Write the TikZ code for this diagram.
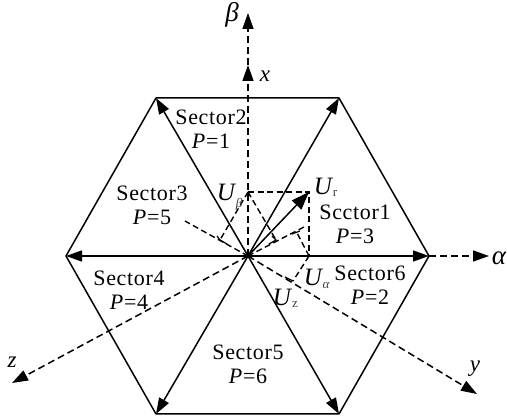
\documentclass[tikz,border=0pt]{standalone}
\usepackage{fontspec}
\setmainfont{Liberation Serif}
\newfontfamily\spaced[LetterSpace=3]{Liberation Serif}
\usetikzlibrary{arrows.meta}
\tikzset{
  headtip/.style={-{Triangle[length=16pt,width=11pt]}},
  spoke/.style={line width=1.5pt,headtip},
  hexa/.style={line width=1.5pt,line join=round},
  axisline/.style={line width=1.5pt,dash pattern=on 7pt off 4pt,headtip},
  aux/.style={line width=1.4pt,dash pattern=on 6pt off 3.5pt},
  rightmark/.style={line width=1.2pt},
  lab/.style={font=\fontsize{22}{24}\selectfont\spaced,inner sep=0pt,align=center},
  sym/.style={font=\fontsize{23}{24}\selectfont\itshape,inner sep=0pt},
  symbig/.style={font=\fontsize{25}{26}\selectfont\itshape,inner sep=0pt},
  greek/.style={font=\fontsize{27}{28}\selectfont\itshape,inner sep=0pt},
  subs/.style={font=\fontsize{13}{14}\selectfont,inner sep=0pt,text=black!75},
  subsgreek/.style={font=\fontsize{13}{14}\selectfont\itshape,inner sep=0pt,text=black!75},
}
\begin{document}
\begin{tikzpicture}[x=1pt,y=-1pt]
\useasboundingbox (0,0) rectangle (507,419);
\coordinate (O) at (248,256);
\coordinate (A) at (429,256);
\coordinate (B) at (339,98);
\coordinate (C) at (156,98);
\coordinate (D) at (66,256);
\coordinate (E) at (156,414);
\coordinate (F) at (339,414);
\draw[hexa] (A)--(B)--(C)--(D)--(E)--(F)--cycle;
\foreach \p in {A,B,C,D,E,F} \draw[spoke] (O)--(\p);
% axes
\coordinate (BetaTip) at (248,13);
\coordinate (XTip) at (248,65);
\coordinate (AlphaTip) at (489,256);
\coordinate (YTip) at (477,394);
\coordinate (ZTip) at (12,383);
\draw[axisline] (O)--(XTip);
\draw[axisline] (XTip)--(BetaTip);
\draw[axisline] (A)--(AlphaTip);
\draw[axisline] (O)--(YTip);
\draw[axisline] (O)--(ZTip);
% extensions
\coordinate (Yb) at (185,221);
\coordinate (Zb) at (306,226);
\coordinate (Ur) at (309,192);
\coordinate (Ub) at (248,192);
\coordinate (Ua) at (309,256);
\coordinate (F1) at (220,240);
\coordinate (F2) at (276,240);
\coordinate (F3) at (296,231);
\coordinate (F4) at (293,281);
\draw[aux] (O)--(Yb);
\draw[aux] (O)--(Zb);
\draw[aux] (Ub)--(Ur)--(Ua);
\draw[aux] (Ub)--(F1);
\draw[aux] (Ub)--(F2);
\draw[aux] (Ua)--(F3);
\draw[aux] (Ua)--(F4);
% right angle marks
\draw[rightmark] (217,236)--(220,240)--(227,244);
\draw[rightmark] (272,236)--(276,240)--(269,244);
\draw[rightmark] (292,234)--(300,231);
\draw[rightmark] (285,277)--(293,281);
\draw[spoke,-{Triangle[length=18pt,width=13pt]}] (O)--(Ur);
% labels
\node[lab] (s2) at (211,129) {Sector2\\\textit{P}=1};
\node[lab] (s3) at (152,205) {Sector3\\\textit{P}=5};
\node[lab] (s1) at (355,224) {Scctor1\\\textit{P}=3};
\node[lab] (s4) at (129,290) {Sector4\\\textit{P}=4};
\node[lab] (s6) at (370,285) {Sector6\\\textit{P}=2};
\node[lab] (s5) at (248,364) {Sector5\\\textit{P}=6};
\node[greek] (nb) at (232,15) {β};
\node[sym] (nx) at (265,76) {x};
\node[greek] (na) at (499,258) {α};
\node[sym] (ny) at (475,369) {y};
\node[sym] (nz) at (12,362) {z};
\node[symbig] (nur) at (323,186) {U};
\node[subs] (sr) at (335,193) {r};
\node[symbig] (nub) at (226,192) {U};
\node[subsgreek] (sb) at (239,204) {β};
\node[symbig] (nua) at (313,277) {U};
\node[subsgreek] (sa) at (326,286) {α};
\node[symbig] (nuz) at (282,297) {U};
\node[subs] (sz) at (295,305) {z};
\end{tikzpicture}
\end{document}
